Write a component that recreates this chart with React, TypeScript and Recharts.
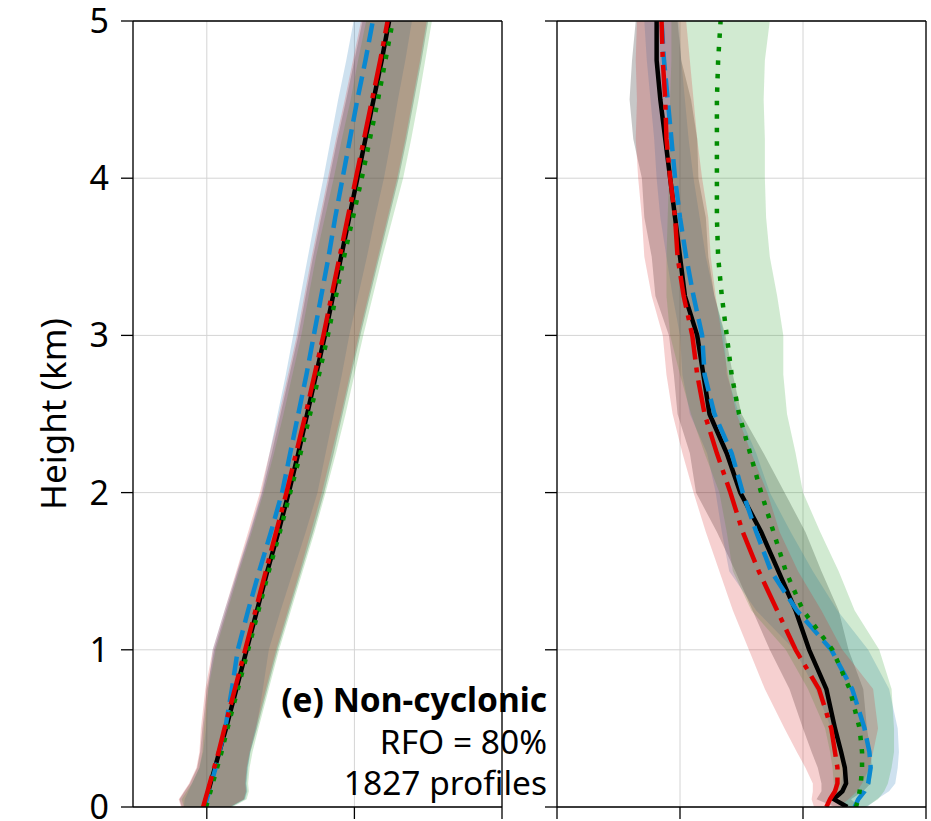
import React from 'react';
import { ComposedChart, Area, Line, XAxis, YAxis, CartesianGrid, ReferenceLine } from 'recharts';

// heights (km) shared by both panels
const heights = [0, 0.05, 0.1, 0.15, 0.25, 0.35, 0.5, 0.75, 1, 1.25, 1.5, 1.75, 2, 2.25, 2.5, 2.75, 3, 3.25, 3.5, 3.75, 4, 4.25, 4.5, 4.75, 5];

// left panel profiles
const leftBlack = [-10.2, -10.05, -9.9, -9.75, -9.45, -9.15, -8.7, -8.0, -7.3, -6.6, -5.9, -5.15, -4.45, -3.8, -3.2, -2.6, -2.0, -1.45, -0.9, -0.35, 0.2, 0.75, 1.3, 1.85, 2.35];
const leftBlue = [-10.15, -10.0, -9.85, -9.7, -9.4, -9.15, -8.75, -8.3, -7.9, -7.2, -6.45, -5.65, -4.9, -4.35, -3.8, -3.25, -2.75, -2.25, -1.75, -1.3, -0.8, -0.3, 0.2, 0.75, 1.25];
const leftRed = [-10.25, -10.1, -9.95, -9.8, -9.5, -9.2, -8.8, -8.1, -7.4, -6.7, -6.0, -5.3, -4.6, -3.95, -3.3, -2.7, -2.1, -1.55, -1.0, -0.45, 0.1, 0.65, 1.2, 1.75, 2.25];
const leftGreen = [-10.05, -9.9, -9.75, -9.6, -9.3, -9.0, -8.6, -7.9, -7.2, -6.5, -5.8, -5.05, -4.35, -3.65, -3.0, -2.4, -1.8, -1.25, -0.7, -0.1, 0.5, 1.05, 1.6, 2.1, 2.6];
const leftLoSpread = [1.5, 1.8, 1.6, 1.4, 1.2, 1.3, 1.6, 2.0, 2.2, 2.1, 2.0, 1.9, 1.8, 1.8, 1.8, 1.8, 1.8, 1.85, 1.9, 1.9, 1.9, 1.9, 1.85, 1.85, 1.8];
const leftHiSpread = [1.8, 2.6, 2.6, 2.4, 2.2, 2.1, 2.1, 2.1, 2.1, 2.2, 2.3, 2.35, 2.4, 2.4, 2.4, 2.4, 2.4, 2.5, 2.6, 2.7, 2.8, 2.8, 2.75, 2.7, 2.65];
const leftBlueLoSpread = [1.4, 1.5, 1.4, 1.3, 1.1, 1.1, 1.3, 1.6, 1.7, 1.6, 1.5, 1.45, 1.4, 1.4, 1.4, 1.4, 1.4, 1.4, 1.4, 1.35, 1.3, 1.3, 1.3, 1.3, 1.3];

// right panel profiles
const rightBlack = [2.36, 2.25, 2.32, 2.35, 2.34, 2.31, 2.26, 2.19, 2.05, 1.94, 1.8, 1.66, 1.49, 1.38, 1.24, 1.19, 1.14, 1.04, 1.0, 0.96, 0.92, 0.88, 0.84, 0.81, 0.81];
const rightBlue = [2.42, 2.45, 2.5, 2.53, 2.55, 2.54, 2.5, 2.4, 2.23, 1.95, 1.74, 1.62, 1.51, 1.42, 1.28, 1.2, 1.18, 1.11, 1.05, 1.0, 0.96, 0.93, 0.9, 0.87, 0.85];
const rightRed = [2.19, 2.22, 2.26, 2.28, 2.28, 2.26, 2.23, 2.13, 1.94, 1.79, 1.64, 1.51, 1.41, 1.3, 1.2, 1.14, 1.1, 1.03, 0.98, 0.96, 0.92, 0.89, 0.88, 0.86, 0.85];
const rightGreen = [2.43, 2.45, 2.46, 2.47, 2.48, 2.48, 2.46, 2.38, 2.24, 2.0, 1.86, 1.76, 1.66, 1.57, 1.48, 1.42, 1.38, 1.34, 1.31, 1.3, 1.3, 1.3, 1.3, 1.31, 1.33];
const rightBlackSpread = [0.1, 0.14, 0.17, 0.2, 0.22, 0.24, 0.26, 0.3, 0.32, 0.35, 0.35, 0.36, 0.36, 0.3, 0.26, 0.24, 0.23, 0.24, 0.23, 0.25, 0.23, 0.26, 0.25, 0.2, 0.17];
const rightBlueSpread = [0.1, 0.15, 0.2, 0.22, 0.22, 0.24, 0.27, 0.3, 0.3, 0.33, 0.34, 0.28, 0.22, 0.2, 0.2, 0.18, 0.18, 0.17, 0.16, 0.16, 0.15, 0.14, 0.14, 0.14, 0.14];
const rightRedSpread = [0.1, 0.15, 0.18, 0.2, 0.26, 0.31, 0.38, 0.44, 0.38, 0.36, 0.32, 0.3, 0.3, 0.28, 0.26, 0.25, 0.24, 0.26, 0.27, 0.27, 0.26, 0.25, 0.23, 0.22, 0.2];
const rightGreenSpread = [0.08, 0.16, 0.2, 0.22, 0.24, 0.26, 0.28, 0.34, 0.38, 0.42, 0.43, 0.38, 0.34, 0.37, 0.39, 0.42, 0.46, 0.45, 0.42, 0.4, 0.39, 0.39, 0.38, 0.38, 0.4];

const yTicks = [0, 1, 2, 3, 4, 5];
const leftTicks = [-10, 0, 10];
const rightTicks = [0, 1, 2, 3];
const annotation = ['(e) Non-cyclonic', 'RFO = 80%', '1827 profiles'];

const series = [
  { key: 'black', line: '#000000', fill: '#000000', dash: undefined, width: 4.5 },
  { key: 'blue', line: '#0a88d0', fill: '#1f77b4', dash: '19 8', width: 4.5 },
  { key: 'green', line: '#008c00', fill: '#2ca02c', dash: '4.5 9', width: 4.5 },
  { key: 'red', line: '#e00000', fill: '#d62728', dash: '32 8 5 8', width: 4.5 },
];

const buildRows = (means: Record<string, number[]>, lo: Record<string, number[]>, hi: Record<string, number[]>) =>
  heights.map((h, i) => {
    const row: Record<string, any> = { h };
    Object.keys(means).forEach((k) => {
      row[k] = means[k][i];
      row[k + 'Band'] = [means[k][i] - lo[k][i], means[k][i] + hi[k][i]];
    });
    return row;
  });

const leftRows = buildRows(
  { black: leftBlack, blue: leftBlue, red: leftRed, green: leftGreen },
  { black: leftLoSpread, blue: leftBlueLoSpread, red: leftLoSpread, green: leftLoSpread },
  { black: leftHiSpread, blue: leftHiSpread, red: leftHiSpread, green: leftHiSpread },
);
const rightSpreads = { black: rightBlackSpread, blue: rightBlueSpread, red: rightRedSpread, green: rightGreenSpread };
const rightRows = buildRows({ black: rightBlack, blue: rightBlue, red: rightRed, green: rightGreen }, rightSpreads, rightSpreads);

const font = '"Noto Sans", sans-serif';
const axisStroke = { stroke: '#000', strokeWidth: 1.3 };
const noLabel = () => <g />;

function Panel({ rows, domain, ticks, width, yWidth, showLabels }: any) {
  return (
    <ComposedChart layout="vertical" width={width} height={821} data={rows} margin={{ top: 21, right: width - yWidth - 369, bottom: 0, left: 0 }}>
      <CartesianGrid stroke="#d4d4d4" strokeWidth={1} />
      <XAxis type="number" domain={domain} ticks={ticks} interval={0} allowDataOverflow tick={noLabel} tickSize={12} height={14} axisLine={axisStroke} tickLine={axisStroke} />
      <YAxis
        type="number"
        dataKey="h"
        domain={[0, 5]}
        ticks={yTicks}
        interval={0}
        reversed
        allowDataOverflow
        width={yWidth}
        tickSize={12}
        tickMargin={12}
        tick={showLabels ? { fontSize: 34, fill: '#000', fontFamily: font } : noLabel}
        axisLine={axisStroke}
        tickLine={axisStroke}
      />
      {series.map((s) => (
        <Area key={s.key + 'Band'} type="linear" dataKey={s.key + 'Band'} stroke="none" fill={s.fill} fillOpacity={0.22} isAnimationActive={false} />
      ))}
      {series.map((s) => (
        <Line key={s.key} type="linear" dataKey={s.key} stroke={s.line} strokeWidth={s.width} strokeDasharray={s.dash} dot={false} isAnimationActive={false} />
      ))}
      <ReferenceLine y={5} stroke="#000" strokeWidth={1.3} />
      <ReferenceLine x={domain[1]} stroke="#000" strokeWidth={1.3} />
    </ComposedChart>
  );
}

export default function App() {
  return (
    <div style={{ position: 'absolute', left: 0, top: 0, width: 931, height: 821, background: '#fff', overflow: 'hidden' }}>
      <div style={{ position: 'absolute', left: 0, top: 0 }}>
        <Panel rows={leftRows} domain={[-15, 10]} ticks={leftTicks} width={510} yWidth={133} showLabels />
      </div>
      <div style={{ position: 'absolute', left: 520, top: 0 }}>
        <Panel rows={rightRows} domain={[0, 3]} ticks={rightTicks} width={411} yWidth={37} showLabels={false} />
      </div>
      <svg width={931} height={821} style={{ position: 'absolute', left: 0, top: 0, pointerEvents: 'none' }}>
        <text transform="translate(66,414) rotate(-90)" textAnchor="middle" fontFamily={font} fontSize={35} fill="#000">
          Height (km)
        </text>
        {annotation.map((t, i) => (
          <text key={t} x={547} y={712 + i * 41.5} textAnchor="end" fontFamily={font} fontSize={33.5} fontWeight={i === 0 ? 700 : 400} fill="#000">
            {t}
          </text>
        ))}
      </svg>
    </div>
  );
}
